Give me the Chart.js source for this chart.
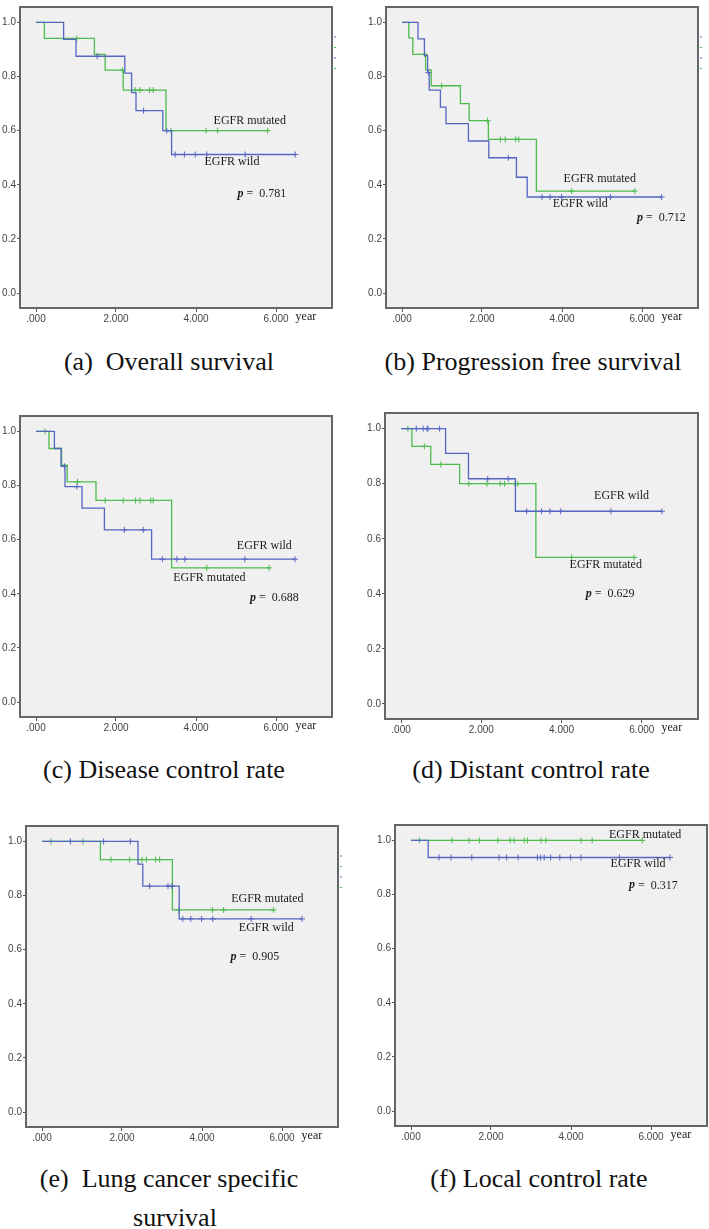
<!DOCTYPE html>
<html><head><meta charset="utf-8">
<script src="https://cdn.jsdelivr.net/npm/chart.js@4.4.1/dist/chart.umd.min.js"></script>
<style>
html,body{margin:0;padding:0;background:#fff;overflow:hidden;}
body{width:709px;height:1229px;position:relative;}
canvas{position:absolute;}
.cap{position:absolute;font-family:"Liberation Serif","Times New Roman",serif;font-size:26px;line-height:26px;color:#111;white-space:pre;text-align:center;width:420px;}
</style></head><body>
<script>
// ---------- DATA ----------
const xTickValues = [0, 2, 4, 6];
const xTickLabels = ['.000', '2.000', '4.000', '6.000'];
const yTickValues = [0, 0.2, 0.4, 0.6, 0.8, 1.0];
const yTickLabels = ['0.0', '0.2', '0.4', '0.6', '0.8', '1.0'];
const groupNames = ['EGFR mutated', 'EGFR wild'];
const captions = ['(a)  Overall survival', '(b) Progression free survival', '(c) Disease control rate',
                  '(d) Distant control rate', '(e)  Lung cancer specific\nsurvival', '(f) Local control rate'];
const pValues = ['0.781', '0.712', '0.688', '0.629', '0.905', '0.317'];

// (a) Overall survival
const aMutT = [0, 0.21, 1.46, 1.73, 2.18, 3.25, 5.79];
const aMutS = [1, 0.941, 0.882, 0.824, 0.750, 0.600, 0.600];
const aMutC = [1.02, 2.16, 2.48, 2.60, 2.84, 2.93, 3.375, 4.25, 4.54, 5.79];
const aWildT = [0, 0.69, 1.00, 2.22, 2.39, 2.50, 3.17, 3.39, 6.48];
const aWildS = [1, 0.9375, 0.875, 0.8125, 0.741, 0.674, 0.600, 0.512, 0.512];
const aWildC = [1.53, 2.69, 3.27, 3.48, 3.71, 3.98, 4.27, 5.23, 6.48];

// (b) Progression free survival
const bMutT = [0, 0.17, 0.27, 0.59, 0.73, 1.46, 1.68, 2.16, 3.36, 5.82];
const bMutS = [1, 0.943, 0.882, 0.825, 0.766, 0.700, 0.637, 0.568, 0.377, 0.377];
const bMutC = [0.57, 0.99, 2.14, 2.46, 2.58, 2.84, 2.92, 4.24, 5.82];
const bWildT = [0, 0.40, 0.56, 0.64, 0.68, 0.96, 1.10, 1.66, 2.17, 2.86, 3.13, 6.49];
const bWildS = [1, 0.939, 0.877, 0.815, 0.750, 0.687, 0.626, 0.562, 0.500, 0.428, 0.355, 0.355];
const bWildC = [0.66, 2.66, 3.50, 3.70, 3.99, 5.21, 6.49];

// (c) Disease control rate
const cMutT = [0, 0.325, 0.64, 0.78, 1.50, 3.39, 5.83];
const cMutS = [1, 0.937, 0.875, 0.814, 0.745, 0.496, 0.496];
const cMutC = [0.225, 1.04, 1.73, 2.18, 2.49, 2.60, 2.87, 2.93, 4.27, 5.83];
const cWildT = [0, 0.46, 0.625, 0.725, 1.15, 1.71, 2.89, 6.475];
const cWildS = [1, 0.937, 0.871, 0.796, 0.717, 0.636, 0.528, 0.528];
const cWildC = [0.71, 1.02, 2.21, 2.68, 3.16, 3.52, 3.72, 5.22, 6.475];

// (d) Distant control rate
const dMutT = [0, 0.27, 0.74, 1.46, 3.36, 5.81];
const dMutS = [1, 0.936, 0.870, 0.800, 0.532, 0.532];
const dMutC = [0.17, 0.58, 0.99, 1.69, 2.14, 2.47, 2.58, 2.84, 2.91, 4.25, 5.81];
const dWildT = [0, 1.11, 1.68, 2.85, 6.50];
const dWildS = [1, 0.910, 0.818, 0.700, 0.700];
const dWildC = [0.38, 0.55, 0.65, 0.67, 0.96, 2.16, 2.67, 3.13, 3.50, 3.71, 3.98, 5.23, 6.50];

// (e) Lung cancer specific survival
const eMutT = [0, 1.46, 3.26, 5.79];
const eMutS = [1, 0.933, 0.747, 0.747];
const eMutC = [0.225, 1.025, 1.725, 2.19, 2.50, 2.61, 2.84, 2.94, 3.42, 4.26, 4.54, 5.79];
const eWildT = [0, 2.40, 2.52, 3.43, 6.50];
const eWildS = [1, 0.916, 0.835, 0.714, 0.714];
const eWildC = [0.71, 1.54, 2.21, 2.69, 3.15, 3.25, 3.52, 3.72, 3.99, 4.27, 5.23, 6.50];

// (f) Local control rate
const fMutT = [0, 5.81];
const fMutS = [1, 1];
const fMutC = [0.21, 1.03, 1.45, 1.71, 2.17, 2.48, 2.58, 2.83, 2.91, 3.25, 3.37, 4.25, 4.53, 5.78];
const fWildT = [0, 0.43, 6.475];
const fWildS = [1, 0.937, 0.937];
const fWildC = [0.70, 1.00, 1.52, 2.20, 2.39, 2.68, 3.16, 3.24, 3.33, 3.49, 3.72, 3.99, 4.25, 5.21, 6.475];

const panelData = [
  {mut: [aMutT, aMutS, aMutC], wild: [aWildT, aWildS, aWildC]},
  {mut: [bMutT, bMutS, bMutC], wild: [bWildT, bWildS, bWildC]},
  {mut: [cMutT, cMutS, cMutC], wild: [cWildT, cWildS, cWildC]},
  {mut: [dMutT, dMutS, dMutC], wild: [dWildT, dWildS, dWildC]},
  {mut: [eMutT, eMutS, eMutC], wild: [eWildT, eWildS, eWildC]},
  {mut: [fMutT, fMutS, fMutC], wild: [fWildT, fWildS, fWildC]},
];

// ---------- LAYOUT / STYLE ----------
const GREEN = '#4dbb4d', BLUE = '#5565c2';
const panelLayout = [
  {frame: [20, 3, 312, 305], mut: [4.44, 0.638], wild: [4.21, 0.485], p: [5.04, 0.365], marks: true, cap: [169, 371]},
  {frame: [386, 3, 312, 305], mut: [4.04, 0.421], wild: [3.77, 0.331], p: [5.875, 0.279], marks: true, cap: [533, 371]},
  {frame: [20, 412, 312, 305], mut: [3.43, 0.46], wild: [5.02, 0.578], p: [5.35, 0.384], marks: false, cap: [164, 779]},
  {frame: [385, 409, 313, 310], mut: [4.2, 0.505], wild: [4.81, 0.755], p: [4.6, 0.40], marks: false, cap: [531, 779]},
  {frame: [26, 822, 312, 305], mut: [4.73, 0.787], wild: [4.92, 0.68], p: [4.71, 0.575], marks: true, cap: [169, 1188]},
  {frame: [395, 821, 312, 305], mut: [4.95, 1.02], wild: [4.99, 0.915], p: [5.45, 0.834], marks: false, cap: [539, 1188]},
];
const Y_AXIS_W = 20, X_AXIS_H = 22, PAD_TOP = 3, PAD_RIGHT = 30;

function survAt(T, S, t) {
  let v = S[0];
  for (let i = 0; i < T.length; i++) if (T[i] <= t) v = S[i];
  return v;
}

const decor = {
  id: 'kmDecor',
  beforeDraw(chart, args, o) {
    const {ctx, chartArea: a} = chart;
    ctx.save();
    ctx.fillStyle = '#f0f0f0';
    ctx.fillRect(a.left, a.top, a.right - a.left, a.bottom - a.top);
    ctx.restore();
  },
  afterDraw(chart, args, o) {
    const {ctx, chartArea: a, scales: {x, y}} = chart;
    ctx.save();
    ctx.strokeStyle = '#666';
    ctx.lineWidth = 2;
    ctx.strokeRect(a.left, a.top, a.right - a.left, a.bottom - a.top);
    ctx.fillStyle = '#1a1a1a';
    ctx.textBaseline = 'middle';
    ctx.textAlign = 'left';
    ctx.font = '12px "Liberation Serif", serif';
    ctx.fillText(groupNames[0], x.getPixelForValue(o.mut[0]), y.getPixelForValue(o.mut[1]));
    ctx.fillText(groupNames[1], x.getPixelForValue(o.wild[0]), y.getPixelForValue(o.wild[1]));
    const px = x.getPixelForValue(o.p[0]), py = y.getPixelForValue(o.p[1]);
    ctx.font = 'italic bold 12px "Liberation Serif", serif';
    ctx.fillText('p', px, py);
    const w = ctx.measureText('p').width;
    ctx.font = '12px "Liberation Serif", serif';
    ctx.fillText(' =  ' + o.pText, px + w, py);
    ctx.font = '12px "Liberation Serif", serif';
    ctx.fillText('year', x.getPixelForValue(6.49), a.bottom + 9);
    if (o.marks) {
      const cols = [BLUE, GREEN, BLUE, GREEN];
      cols.forEach((c, i) => {
        ctx.strokeStyle = c; ctx.lineWidth = 1;
        ctx.beginPath();
        ctx.moveTo(a.right + 2, a.top + 30 + i * 10.5);
        ctx.lineTo(a.right + 4, a.top + 30 + i * 10.5);
        ctx.stroke();
      });
    }
    ctx.restore();
  }
};

panelData.forEach((pd, k) => {
  const L = panelLayout[k];
  const [fl, ft, fw, fh] = L.frame;
  const cv = document.createElement('canvas');
  const W = Y_AXIS_W + fw + PAD_RIGHT, H = PAD_TOP + fh + X_AXIS_H;
  cv.width = W; cv.height = H;
  cv.style.left = (fl - Y_AXIS_W) + 'px';
  cv.style.top = (ft - PAD_TOP) + 'px';
  cv.style.width = W + 'px'; cv.style.height = H + 'px';
  document.body.appendChild(cv);

  const groups = [[pd.wild, BLUE], [pd.mut, GREEN]];
  const datasets = [];
  groups.forEach(([g, col]) => {
    const [T, S, C] = g;
    datasets.push({
      type: 'line', data: T.map((t, i) => ({x: t, y: S[i]})), stepped: 'before',
      borderColor: col, borderWidth: 1.3, pointRadius: 0, fill: false
    });
    datasets.push({
      type: 'scatter', data: C.map(c => ({x: c, y: survAt(T, S, c)})),
      pointStyle: 'cross', pointRadius: 3, borderColor: col, borderWidth: 1, backgroundColor: col
    });
  });

  new Chart(cv, {
    data: {datasets},
    options: {
      responsive: false, animation: false, devicePixelRatio: 1,
      layout: {padding: {top: PAD_TOP, right: PAD_RIGHT, left: 0, bottom: 0}},
      plugins: {legend: {display: false}, tooltip: {enabled: false},
        kmDecor: {mut: L.mut, wild: L.wild, p: L.p, pText: pValues[k], marks: L.marks}},
      scales: {
        x: {
          type: 'linear', min: -0.4, max: 7.4,
          afterFit: s => { s.height = X_AXIS_H; },
          afterBuildTicks: s => { s.ticks = xTickValues.map(v => ({value: v})); },
          border: {display: false},
          grid: {display: true, drawOnChartArea: false, drawTicks: true, tickLength: 4, color: '#555', tickWidth: 1},
          ticks: {autoSkip: false, maxRotation: 0, padding: 1, color: '#444',
            font: {family: '"Liberation Sans", Arial, sans-serif', size: 10},
            callback: (v, i) => xTickLabels[i]}
        },
        y: {
          type: 'linear', min: -0.055, max: 1.057,
          afterFit: s => { s.width = Y_AXIS_W; },
          afterBuildTicks: s => { s.ticks = yTickValues.map(v => ({value: v})); },
          border: {display: false},
          grid: {display: true, drawOnChartArea: false, drawTicks: true, tickLength: 3, color: '#555', tickWidth: 1},
          ticks: {autoSkip: false, padding: 1, color: '#444',
            font: {family: '"Liberation Sans", Arial, sans-serif', size: 10},
            callback: (v, i) => yTickLabels[i]}
        }
      }
    },
    plugins: [decor]
  });

  const lines = captions[k].split('\n');
  lines.forEach((ln, j) => {
    const d = document.createElement('div');
    d.className = 'cap';
    d.textContent = ln;
    const cx = j === 0 ? L.cap[0] : L.cap[0] + 6;
    d.style.left = (cx - 210) + 'px';
    d.style.top = (L.cap[1] - 22 + j * 39) + 'px';
    document.body.appendChild(d);
  });
});
</script>
</body></html>
